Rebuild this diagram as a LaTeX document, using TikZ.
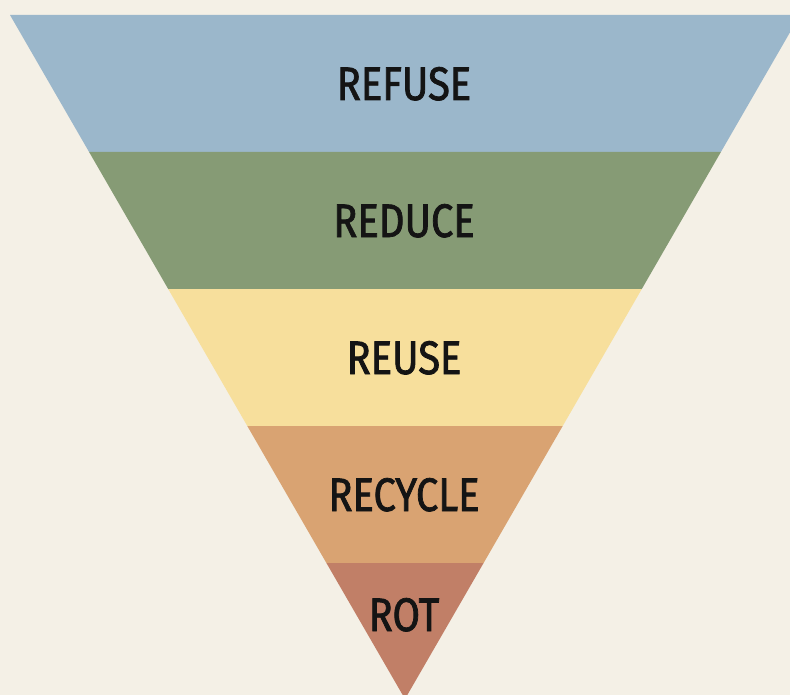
\documentclass[tikz,border=0pt]{standalone}
\usepackage{fontspec}
\setmainfont{Fira Sans}[FakeStretch=0.85,FakeBold=1.6]
\definecolor{bg}{HTML}{F4F0E6}
\definecolor{cblue}{HTML}{9BB7CB}
\definecolor{cgreen}{HTML}{869B75}
\definecolor{cyellow}{HTML}{F7DF9C}
\definecolor{corange}{HTML}{D9A372}
\definecolor{crot}{HTML}{C17F67}
\definecolor{ctext}{HTML}{141414}
\tikzset{
  label/.style={font=\fontsize{47}{50}\selectfont, text=ctext, inner sep=0pt, anchor=base}
}
\begin{document}
\begin{tikzpicture}[x=1pt,y=-1pt]
\useasboundingbox (0,0) rectangle (790,695);
\fill[bg] (0,0) rectangle (790,695);
\begin{scope}
\clip (0,0) rectangle (790,695);
% triangle: left (10,15), right (800,15), apex (405,698)
\fill[cblue]   (10,15) -- (800,15) -- (720.9,152) -- (89.1,152) -- cycle;
\fill[cgreen]  (89.1,152) -- (720.9,152) -- (641.8,289) -- (168.2,289) -- cycle;
\fill[cyellow] (168.2,289) -- (641.8,289) -- (562.7,426) -- (247.3,426) -- cycle;
\fill[corange] (247.3,426) -- (562.7,426) -- (483.6,563) -- (326.4,563) -- cycle;
\fill[crot]    (326.4,563) -- (483.6,563) -- (405,699) -- cycle;
\end{scope}
\node[label] (refuse)  at (404,100) {REFUSE};
\node[label] (reduce)  at (404,237) {REDUCE};
\node[label] (reuse)   at (404,374) {REUSE};
\node[label] (recycle) at (404,511) {RECYCLE};
\node[label] (rot)     at (404,631) {ROT};
\end{tikzpicture}
\end{document}
